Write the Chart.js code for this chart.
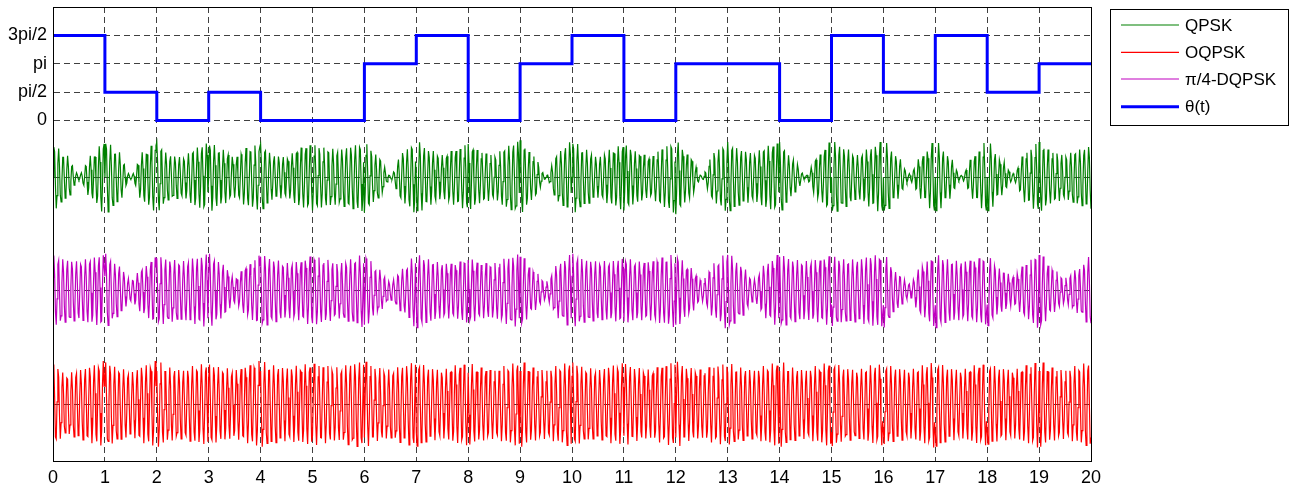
<!DOCTYPE html>
<html><head><meta charset="utf-8">
<script src="https://cdn.jsdelivr.net/npm/chart.js@4.4.1/dist/chart.umd.min.js"></script>
<style>html,body{margin:0;padding:0;background:#fff;} #wrap{width:1293px;height:488px;position:relative;}</style>
</head><body><div id="wrap"><canvas id="c"></canvas></div>
<script>
// ---------------- data ----------------
const xTickLabels = ['0','1','2','3','4','5','6','7','8','9','10','11','12','13','14','15','16','17','18','19','20'];
// theta(t) per symbol, in units of pi/2
const thetaSteps = [3,1,0,1,0,0,2,3,0,2,3,0,2,2,0,3,1,3,1,2];
const yTickValues = [0, Math.PI/2, Math.PI, 3*Math.PI/2];
const yTickLabels = ['0','pi/2','pi','3pi/2'];
const seriesNames = ['QPSK','OQPSK','\u03C0/4-DQPSK','\u03B8(t)'];
// baseline of each modulated waveform (radians on the y axis)
const seriesBaselines = [-Math.PI, -5*Math.PI, -3*Math.PI];
// peak amplitude of each waveform (radians on the y axis)
const seriesPeaks = [2.05, 2.4, 2.05];
// envelope, every quarter symbol, t = 0 .. 20
const qpskEnv = [
 0.90,0.60,0.08,0.60, 1.00,0.70,0.05,0.70, 0.95,0.60,0.55,0.80, 0.95,0.75,0.55,0.80,
 0.90,0.60,0.55,0.80, 0.90,0.80,0.75,0.85, 0.95,0.60,0.05,0.70, 1.00,0.75,0.60,0.75,
 0.90,0.70,0.60,0.85, 1.00,0.60,0.05,0.70, 1.00,0.75,0.55,0.75, 0.90,0.70,0.55,0.80,
 1.00,0.60,0.05,0.70, 0.95,0.75,0.65,0.85, 0.95,0.50,0.05,0.60, 1.00,0.80,0.60,0.80,
 1.00,0.60,0.10,0.60, 1.00,0.60,0.05,0.60, 1.00,0.50,0.10,0.70, 0.95,0.70,0.60,0.75, 0.85];
const oqpskEnv = [
 0.95,0.70,0.80,0.90, 1.00,0.85,0.75,0.90, 1.00,0.85,0.80,0.90, 0.95,0.85,0.80,0.90,
 1.00,0.90,0.85,0.90, 0.95,0.90,0.85,0.95, 1.00,0.85,0.80,0.90, 1.00,0.85,0.80,0.90,
 0.95,0.85,0.80,0.90, 1.00,0.85,0.80,0.90, 1.00,0.85,0.80,0.90, 0.95,0.85,0.80,0.90,
 1.00,0.85,0.80,0.90, 0.95,0.85,0.80,0.90, 1.00,0.85,0.80,0.90, 1.00,0.85,0.80,0.90,
 0.95,0.85,0.80,0.90, 1.00,0.85,0.80,0.90, 0.95,0.85,0.80,0.90, 1.00,0.85,0.80,0.90, 1.00];
const dqpskEnv = [
 0.95,0.85,0.80,0.90, 1.00,0.70,0.30,0.65, 0.95,0.85,0.80,0.90, 1.00,0.75,0.35,0.70,
 1.00,0.85,0.75,0.80, 0.95,0.85,0.75,0.85, 1.00,0.60,0.25,0.60, 1.00,0.85,0.75,0.75,
 0.90,0.75,0.75,0.90, 1.00,0.55,0.25,0.75, 1.00,0.85,0.80,0.80, 0.90,0.80,0.80,0.90,
 1.00,0.65,0.28,0.75, 1.05,0.70,0.30,0.75, 1.00,0.85,0.80,0.85, 0.95,0.85,0.85,0.95,
 1.00,0.50,0.20,0.70, 1.00,0.85,0.80,0.85, 0.95,0.60,0.40,0.75, 1.05,0.60,0.35,0.60, 0.95];
const carrierCyclesPerSymbol = 11.5;
const samplesPerSymbol = 64;

// ---------------- build datasets from the arrays ----------------
function envAt(env, t){
  const p = t*4; const i = Math.min(Math.floor(p), env.length-2); const f = p - i;
  const w = (1 - Math.cos(Math.PI*f))/2;
  return env[i]*(1-w) + env[i+1]*w;
}
function waveform(env, base, peak, phaseShift){
  const pts = [];
  const n = thetaSteps.length*samplesPerSymbol;
  for (let k=0;k<=n;k++){
    const t = k/samplesPerSymbol;
    const sym = Math.min(Math.floor(t), thetaSteps.length-1);
    const ph = thetaSteps[sym]*Math.PI/2 + phaseShift;
    pts.push({x:t, y: base + peak*envAt(env,t)*Math.cos(2*Math.PI*carrierCyclesPerSymbol*t + ph)});
  }
  return pts;
}
const thetaPts = thetaSteps.map((s,i)=>({x:i, y:s*Math.PI/2}));
thetaPts.push({x:thetaSteps.length, y:thetaSteps[thetaSteps.length-1]*Math.PI/2});

const FONT = "'Liberation Sans', Arial, sans-serif";

const legendPlugin = {
  id:'boxLegend',
  afterDraw(chart){
    const ctx = chart.ctx, a = chart.chartArea;
    ctx.save();
    ctx.strokeStyle='#000'; ctx.lineWidth=1;
    ctx.strokeRect(Math.round(a.left)+0.5, Math.round(a.top)+0.5, Math.round(a.right-a.left), Math.round(a.bottom-a.top));
    // legend box
    const bx=1110.5, by=9.5, bw=178, bh=116;
    ctx.fillStyle='#fff'; ctx.fillRect(bx,by,bw,bh); ctx.strokeRect(bx,by,bw,bh);
    const rows=[25,52.3,79,106.7];
    chart.data.datasets.forEach((ds,i)=>{
      ctx.strokeStyle=ds.borderColor; ctx.lineWidth=Math.min(ds.borderWidth,3);
      ctx.beginPath(); ctx.moveTo(1121,rows[i]); ctx.lineTo(1179,rows[i]); ctx.stroke();
      ctx.fillStyle='#000'; ctx.font="17px "+FONT; ctx.textBaseline='middle'; ctx.textAlign='left';
      ctx.fillText(ds.label,1185,rows[i]+1);
    });
    ctx.restore();
  }
};

new Chart(document.getElementById('c'),{
  type:'line',
  data:{datasets:[
    {label:seriesNames[0], data:waveform(qpskEnv, seriesBaselines[0], seriesPeaks[0], 0), borderColor:'#008000', borderWidth:1.2},
    {label:seriesNames[1], data:waveform(oqpskEnv, seriesBaselines[1], seriesPeaks[1], 0.7), borderColor:'#ff0000', borderWidth:1.2},
    {label:seriesNames[2], data:waveform(dqpskEnv, seriesBaselines[2], seriesPeaks[2], 0.4), borderColor:'#bf00bf', borderWidth:1.2},
    {label:seriesNames[3], data:thetaPts, borderColor:'#0000ff', borderWidth:3, stepped:true}
  ]},
  options:{
    responsive:true, maintainAspectRatio:false, animation:false,
    parsing:false, normalized:true,
    elements:{point:{radius:0}, line:{tension:0, borderJoinStyle:'miter'}},
    layout:{padding:{left:0,top:7,right:202,bottom:0}},
    plugins:{legend:{display:false}, tooltip:{enabled:false}},
    scales:{
      x:{type:'linear', min:0, max:20,
        afterBuildTicks(s){ s.ticks = xTickLabels.map((l,i)=>({value:i})); },
        afterFit(s){ s.height = 27; s.paddingLeft = 0; s.paddingRight = 0; s.paddingTop = 0; s.paddingBottom = 0; },
        ticks:{autoSkip:false, maxRotation:0, color:'#000', font:{family:FONT,size:18}, padding:6,
          callback:(v,i)=>xTickLabels[i]},
        grid:{color:'rgba(0,0,0,0.75)', lineWidth:1, drawTicks:false},
        border:{display:true, color:'#000', width:1, dash:[6,4]}
      },
      y:{type:'linear', min:-6*Math.PI, max:2*Math.PI,
        afterBuildTicks(s){ s.ticks = seriesBaselines.concat(yTickValues).sort((a,b)=>a-b).map(v=>({value:v})); },
        afterFit(s){ s.width = 53; s.paddingTop = 0; s.paddingBottom = 0; s.paddingLeft = 0; s.paddingRight = 0; },
        ticks:{autoSkip:false, color:'#000', font:{family:FONT,size:18}, padding:6,
          callback:(v)=>{ const k = yTickValues.findIndex(t=>Math.abs(t-v)<1e-6); return k>=0 ? yTickLabels[k] : ''; }},
        grid:{color:'rgba(0,0,0,0.75)', lineWidth:1, drawTicks:false},
        border:{display:true, color:'#000', width:1, dash:[6,4]}
      }
    }
  },
  plugins:[legendPlugin]
});
</script></body></html>
